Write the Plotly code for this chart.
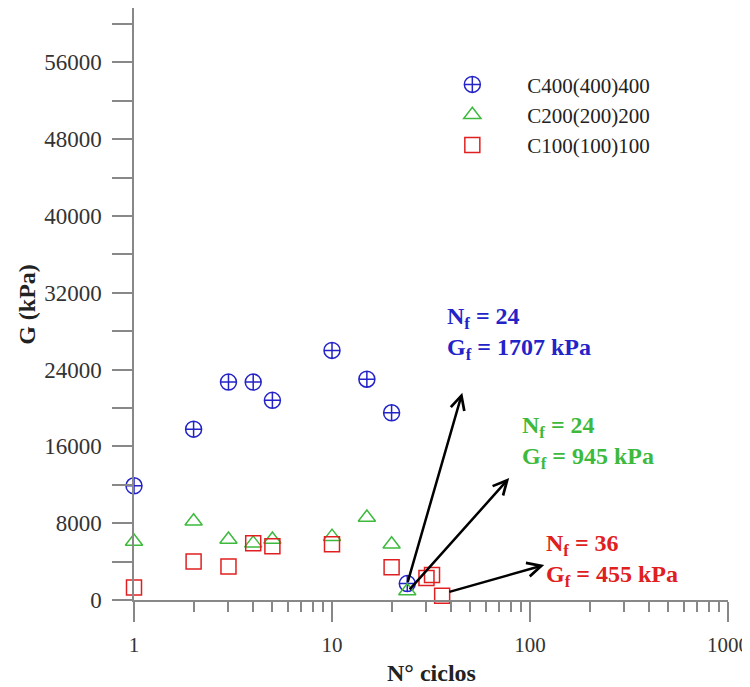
import numpy as np
import plotly.graph_objects as go

# Data
x_c400 = [1, 2, 3, 4, 5, 10, 15, 20, 24]
g_c400 = [11900, 17800, 22700, 22700, 20800, 26000, 23000, 19500, 1707]
x_c200 = [1, 2, 3, 4, 5, 10, 15, 20, 24]
g_c200 = [6100, 8200, 6300, 5900, 6300, 6600, 8600, 5800, 945]
x_c100 = [1, 2, 3, 4, 5, 10, 20, 30, 32, 36]
g_c100 = [1300, 4000, 3500, 5900, 5600, 5800, 3400, 2300, 2600, 455]

names = ["C400(400)400", "C200(200)200", "C100(100)100"]
colors = ["#2323c8", "#3dba3d", "#e02020"]
symbols = ["circle-cross-open", "triangle-up-open", "square-open"]

y_ticks = [0, 8000, 16000, 24000, 32000, 40000, 48000, 56000]
x_ticks = [1, 10, 100, 1000]
x_minor = [m * 10 ** k for k in range(3) for m in range(2, 10)]

x_title = "N° ciclos"
y_title = "G (kPa)"

# annotations
ann_text = [
    "N<sub>f</sub> = 24<br>G<sub>f</sub> = 1707 kPa",
    "N<sub>f</sub> = 24<br>G<sub>f</sub> = 945 kPa",
    "N<sub>f</sub> = 36<br>G<sub>f</sub> = 455 kPa",
]
ann_text_x = [37.1, 88.8, 117.5]
ann_text_y = [27800, 16400, 4100]
arrow_tail_x = [24, 24.3, 38.5]
arrow_tail_y = [1707, 945, 800]
arrow_tip_x = [45.5, 78.5, 118]
arrow_tip_y = [21600, 12700, 3650]

FONT = "Liberation Serif, Times New Roman, serif"

fig = go.Figure()
series = [(x_c400, g_c400), (x_c200, g_c200), (x_c100, g_c100)]
sizes = [16, 15, 15]
for (xs, ys), nm, col, sym, sz in zip(series, names, colors, symbols, sizes):
    fig.add_trace(go.Scatter(
        x=xs, y=ys, mode="markers", name=nm, cliponaxis=False,
        marker=dict(symbol=sym, size=sz, color=col, line=dict(width=1.5, color=col)),
    ))

for txt, tx, ty, ax0, ay0, ax1, ay1, col in zip(ann_text, ann_text_x, ann_text_y,
                                                   arrow_tail_x, arrow_tail_y,
                                                   arrow_tip_x, arrow_tip_y, colors):
    fig.add_annotation(
        x=np.log10(ax1), y=ay1, ax=np.log10(ax0), ay=ay0,
        xref="x", yref="y", axref="x", ayref="y",
        text="", showarrow=True, arrowhead=5, arrowsize=1.1, arrowwidth=2.5,
        arrowcolor="black",
    )
    fig.add_annotation(
        x=np.log10(tx), y=ty, xref="x", yref="y", text="<b>" + txt + "</b>",
        showarrow=False, xanchor="left", yanchor="middle", align="left",
        font=dict(family=FONT, size=24, color=col),
    )

# axis titles
fig.add_annotation(x=0.5, y=-0.1233, xref="paper", yref="paper", text="<b>" + x_title + "</b>",
                   showarrow=False, xanchor="center", yanchor="middle",
                   font=dict(family=FONT, size=24, color="#222222"))
fig.add_annotation(x=-0.1804, y=0.5, xref="paper", yref="paper", text="<b>" + y_title + "</b>",
                   showarrow=False, xanchor="center", yanchor="middle", textangle=-90,
                   font=dict(family=FONT, size=24, color="#222222"))

fig.update_layout(
    width=742, height=679,
    margin=dict(l=126, r=22, t=0, b=87),
    plot_bgcolor="white", paper_bgcolor="white",
    font=dict(family=FONT, size=22, color="#333333"),
    showlegend=True,
    legend=dict(x=0.477, y=0.905, xanchor="left", yanchor="top",
                bgcolor="rgba(0,0,0,0)", itemwidth=100, tracegroupgap=0,
                font=dict(family=FONT, size=21, color="#222222")),
    xaxis=dict(
        type="log", range=[0, 3], tickvals=x_ticks, ticktext=[str(v) for v in x_ticks],
        ticks="outside", ticklen=20, tickcolor="#888888", tickwidth=1.5,
        showline=True, linecolor="#888888", linewidth=1.5, showgrid=False, zeroline=False,
        automargin=False, tickfont=dict(size=21), ticklabelstandoff=5,
        minor=dict(tickvals=x_minor, ticks="outside", ticklen=10, tickcolor="#888888",
                   tickwidth=1.5, showgrid=False),
    ),
    yaxis=dict(
        range=[0, 61670], tickvals=y_ticks, ticktext=[str(v) for v in y_ticks],
        ticks="outside", ticklen=20, tickcolor="#888888", tickwidth=1.5,
        showline=True, linecolor="#888888", linewidth=1.5, showgrid=False, zeroline=False,
        automargin=False, tickfont=dict(size=23), ticklabelstandoff=6,
        minor=dict(dtick=4000, ticks="outside", ticklen=20, tickcolor="#888888", tickwidth=1.5, showgrid=False),
    ),
)

fig.write_html("out.html")
